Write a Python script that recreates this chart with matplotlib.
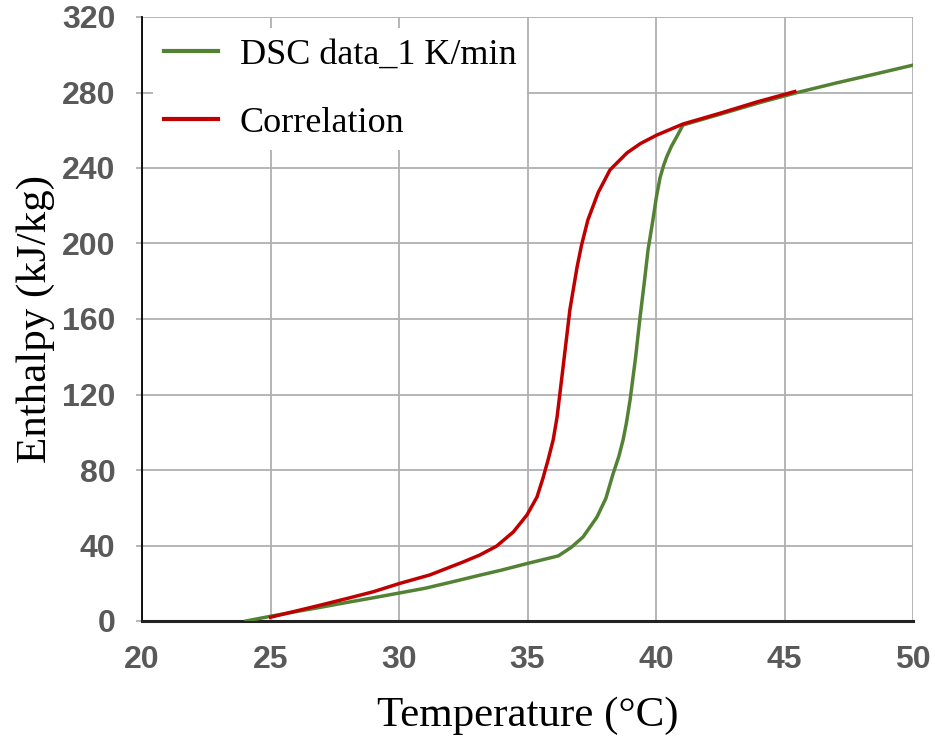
import matplotlib
matplotlib.use("Agg")
import matplotlib.pyplot as plt

# DSC measurement, 1 K/min
dsc_temp = [24.05, 25.0, 26.0, 27.0, 28.0, 29.0, 30.0, 31.0, 32.0, 33.0, 34.0,
            35.0, 36.2, 36.7, 37.16, 37.7, 38.05, 38.33, 38.55, 38.72, 38.85,
            38.99, 39.2, 39.38, 39.55, 39.69, 39.88, 40.02, 40.16, 40.3, 40.42,
            40.6, 40.8, 41.05, 42.5, 44.0, 45.5, 47.0, 48.5, 50.0]
dsc_enth = [0.0, 2.5, 5.0, 7.4, 9.9, 12.3, 14.8, 17.3, 20.5, 23.8, 27.0,
            30.5, 34.5, 39.0, 44.5, 55.0, 65.0, 78.0, 87.0, 96.0, 105.0,
            117.0, 139.0, 161.0, 180.0, 196.6, 212.5, 225.0, 235.0, 241.5, 246.0,
            251.5, 256.4, 262.8, 268.5, 274.5, 280.0, 285.0, 289.7, 294.5]

# correlation curve
cor_temp = [25.0, 26.0, 27.0, 28.0, 29.0, 30.0, 31.2, 32.5, 33.15, 33.8, 34.45,
            34.98, 35.37, 35.6, 35.8, 36.0, 36.15, 36.38, 36.65, 36.93, 37.1,
            37.35, 37.75, 38.21, 38.87, 39.4, 40.04, 41.05, 42.49, 43.93, 45.4]
cor_enth = [2.0, 5.3, 8.6, 12.0, 15.5, 19.8, 24.4, 31.3, 35.0, 39.7, 47.2,
            56.2, 65.7, 75.6, 85.3, 96.0, 108.0, 134.0, 165.0, 187.6, 199.0,
            212.5, 227.0, 239.0, 248.0, 253.0, 257.5, 263.3, 269.0, 275.0, 280.5]

x_ticks = [20, 25, 30, 35, 40, 45, 50]
y_ticks = [0, 40, 80, 120, 160, 200, 240, 280, 320]

serif = ["Liberation Serif", "DejaVu Serif"]

fig = plt.figure(figsize=(9.35, 7.4), dpi=100)
ax = fig.add_axes([142 / 935, 1 - 621 / 740, (913 - 142) / 935, (621 - 17) / 740])

green = "#548235"
red = "#C00000"
ax.plot(dsc_temp, dsc_enth, color=green, lw=2.5, label="DSC data_1 K/min",
        solid_joinstyle="round", zorder=3)
ax.plot(cor_temp, cor_enth, color=red, lw=2.5, label="Correlation",
        solid_joinstyle="round", zorder=4)

ax.set_xlim(20, 50)
ax.set_ylim(0, 320)
ax.set_xticks(x_ticks)
ax.set_yticks(y_ticks)
ax.grid(True, color="#b0b0b0", lw=1.3, zorder=0)
ax.set_axisbelow(True)

for s in ["top", "right"]:
    ax.spines[s].set_visible(False)
ax.spines["left"].set_color("black")
ax.spines["left"].set_linewidth(1.3)
ax.spines["bottom"].set_color("#222222")
ax.spines["bottom"].set_linewidth(2.2)

ax.tick_params(axis="y", length=4, color="#b0b0b0", width=1.3, pad=15)
ax.tick_params(axis="x", length=0, pad=17)
for lab in ax.get_xticklabels() + ax.get_yticklabels():
    lab.set_fontfamily(["Liberation Sans", "DejaVu Sans"])
    lab.set_fontweight("bold")
    lab.set_fontsize(23)
    lab.set_color("#595959")

ax.set_xlabel("Temperature (°C)", fontfamily=serif, fontsize=31, labelpad=16)
ax.set_ylabel("Enthalpy (kJ/kg)", fontfamily=serif, fontsize=31, labelpad=5)

leg = ax.legend(loc="upper left", frameon=True, fancybox=False, edgecolor="none",
                facecolor="white", framealpha=1.0,
                prop={"family": serif, "size": 26}, handlelength=1.5,
                handletextpad=0.6, labelspacing=0.95, borderpad=0.3,
                borderaxespad=0.3, bbox_to_anchor=(0.0, 1.0))
for h in leg.get_lines():
    h.set_linewidth(3.0)

fig.savefig("out.png", dpi=100)
